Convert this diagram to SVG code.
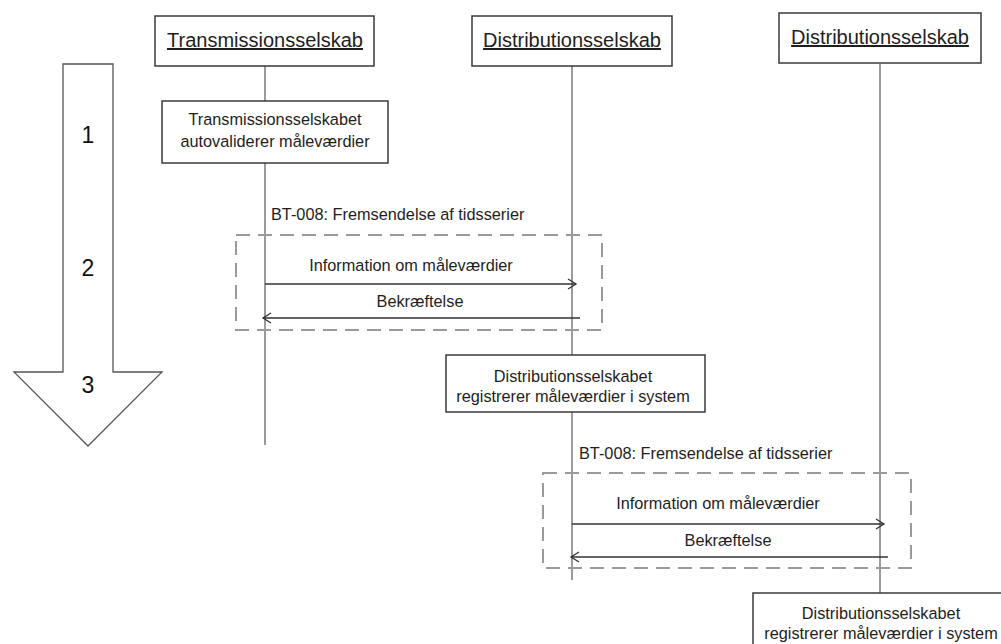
<svg xmlns="http://www.w3.org/2000/svg" width="1001" height="644" viewBox="0 0 1001 644">
<defs>
<style>
.box{fill:#fff;stroke:#3a3a3a;stroke-width:1.5}
.life{stroke:#7a7a7a;stroke-width:1.5;fill:none}
.msg{stroke:#333;stroke-width:1.5;fill:none}
.frame{fill:none;stroke:#9a9a9a;stroke-width:2;stroke-dasharray:14 8}
.t{font-family:"Liberation Sans",Arial,sans-serif;font-size:16.3px;fill:#1e1e1e}
.h{font-family:"Liberation Sans",Arial,sans-serif;font-size:20px;fill:#1e1e1e;text-decoration:underline}
.n{font-family:"Liberation Sans",Arial,sans-serif;font-size:23px;fill:#111}
</style>
<marker id="open" markerWidth="12" markerHeight="12" refX="9" refY="6" orient="auto" markerUnits="userSpaceOnUse">
<path d="M1,1 L9,6 L1,11" fill="none" stroke="#333" stroke-width="1.3"/>
</marker>
</defs>
<rect width="1001" height="644" fill="#fff"/>

<g id="timeline">
<path d="M63,64 H113 V372 H162 L88,446 L14,372 H63 Z" fill="#fff" stroke="#555" stroke-width="1.3"/>
<text class="n" x="88" y="143" text-anchor="middle">1</text>
<text class="n" x="88" y="276" text-anchor="middle">2</text>
<text class="n" x="88" y="393" text-anchor="middle">3</text>
</g>

<g id="lifelines">
<line class="life" x1="265" y1="66" x2="265" y2="445"/>
<line class="life" x1="572" y1="66" x2="572" y2="580"/>
<line class="life" x1="880" y1="64" x2="880" y2="593"/>
</g>

<g id="frames">
<rect class="frame" x="236" y="235" width="366" height="95"/>
<rect class="frame" x="543" y="473" width="368" height="95"/>
</g>

<g id="connectors">
<line class="msg" x1="265" y1="284" x2="576" y2="284" marker-end="url(#open)"/>
<line class="msg" x1="580" y1="318" x2="263" y2="318" marker-end="url(#open)"/>
<line class="msg" x1="572" y1="524" x2="884" y2="524" marker-end="url(#open)"/>
<line class="msg" x1="888" y1="557" x2="571" y2="557" marker-end="url(#open)"/>
<text class="t" x="271" y="220">BT-008: Fremsendelse af tidsserier</text>
<text class="t" x="411" y="271" text-anchor="middle">Information om måleværdier</text>
<text class="t" x="420" y="307" text-anchor="middle">Bekræftelse</text>
<text class="t" x="579" y="459">BT-008: Fremsendelse af tidsserier</text>
<text class="t" x="718" y="509" text-anchor="middle">Information om måleværdier</text>
<text class="t" x="728" y="546" text-anchor="middle">Bekræftelse</text>
</g>

<g id="header-transmission">
<rect class="box" x="155" y="16" width="219" height="50"/>
<text class="h" x="265" y="47" text-anchor="middle">Transmissionsselskab</text>
</g>
<g id="header-distribution-1">
<rect class="box" x="472" y="16" width="200" height="50"/>
<text class="h" x="572" y="47" text-anchor="middle">Distributionsselskab</text>
</g>
<g id="header-distribution-2">
<rect class="box" x="779" y="13" width="202" height="50"/>
<text class="h" x="880" y="44" text-anchor="middle">Distributionsselskab</text>
</g>

<g id="activity-autovalidate">
<rect class="box" x="162" y="101" width="226" height="62"/>
<text class="t" x="275" y="125" text-anchor="middle">Transmissionsselskabet</text>
<text class="t" x="275" y="147" text-anchor="middle">autovaliderer måleværdier</text>
</g>
<g id="activity-register-1">
<rect class="box" x="446" y="355" width="259" height="57"/>
<text class="t" x="573" y="382" text-anchor="middle">Distributionsselskabet</text>
<text class="t" x="573" y="402" text-anchor="middle">registrerer måleværdier i system</text>
</g>
<g id="activity-register-2">
<rect class="box" x="753" y="593" width="260" height="60"/>
<text class="t" x="881" y="619" text-anchor="middle">Distributionsselskabet</text>
<text class="t" x="881" y="639" text-anchor="middle">registrerer måleværdier i system</text>
</g>
</svg>
